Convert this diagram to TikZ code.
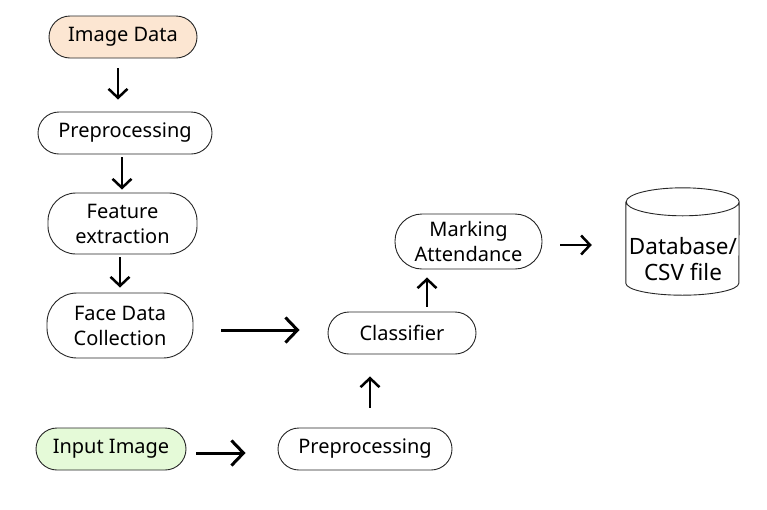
\documentclass[tikz,border=0pt]{standalone}
\usepackage{fontspec}
\setmainfont{Noto Sans}
\usetikzlibrary{arrows.meta}
\definecolor{peach}{HTML}{FCE6D2}
\definecolor{lgreen}{HTML}{E5FAD8}
\tikzset{
  pill/.style={draw=black!85, line width=0.9pt, rounded corners=#1, align=center, inner sep=0pt, font=\fontsize{20}{25}\selectfont},
  pill/.default=21pt,
  cyl/.style={draw=black!85, line width=0.9pt},
  arr/.style={line width=2.5pt, -{Straight Barb[length=9pt,width=19pt,line width=2.5pt]}},
  bigarr/.style={line width=3pt, -{Straight Barb[length=12pt,width=25pt,line width=3pt]}},
}
\begin{document}
\begin{tikzpicture}[x=1pt,y=-1pt]
\useasboundingbox[fill=white] (0,0) rectangle (767,509);
\node[pill, fill=peach, minimum width=148pt, minimum height=42pt] (imgdata) at (123,37) {Image Data};
\node[pill, minimum width=174pt, minimum height=42pt] (pre1) at (125,133) {Preprocessing};
\node[pill=28pt, minimum width=149pt, minimum height=61pt] (feat) at (122.5,223.5) {Feature\\extraction};
\node[pill=30pt, minimum width=146pt, minimum height=65pt] (face) at (120,325.5) {Face Data\\Collection};
\node[pill, minimum width=148pt, minimum height=42pt] (clf) at (402,333) {Classifier};
\node[pill=27pt, minimum width=147pt, minimum height=55pt] (mark) at (468.5,241.5) {Marking\\Attendance};
\node[pill, fill=lgreen, minimum width=150pt, minimum height=42pt] (input) at (111,449) {Input Image};
\node[pill, minimum width=174pt, minimum height=42pt] (pre2) at (365,449) {Preprocessing};
% database cylinder
\node[minimum width=113pt, minimum height=107pt, inner sep=0pt] (db) at (682.5,241.5) {};
\draw[cyl] ([yshift=-14pt]db.north west) -- ([yshift=12pt]db.south west)
  arc[start angle=180, end angle=360, x radius=56.5pt, y radius=12pt]
  -- ([yshift=-14pt]db.north east)
  arc[start angle=0, end angle=180, x radius=56.5pt, y radius=14pt]
  arc[start angle=180, end angle=360, x radius=56.5pt, y radius=14pt];
\node[align=center, inner sep=0pt, font=\fontsize{22.5}{26}\selectfont] (dbtext) at (683,259) {Database/\\CSV file};
% connectors
\draw[arr, shorten <=10pt, shorten >=12pt] ([xshift=-5pt]imgdata.south) -- ([xshift=-7pt]pre1.north);
\draw[arr, shorten <=3pt, shorten >=3pt] ([xshift=-3pt]pre1.south) -- ([xshift=-0.5pt]feat.north);
\draw[arr, shorten <=3pt, shorten >=5pt] ([xshift=-2.5pt]feat.south) -- (face.north);
\draw[bigarr, shorten <=28pt, shorten >=28pt] ([yshift=-4.5pt]face.east) -- ([yshift=3pt]clf.west);
\draw[bigarr, shorten <=10pt, shorten >=32pt] ([yshift=-4pt]input.east) -- ([yshift=-4pt]pre2.west);
\draw[arr, shorten <=20pt, shorten >=22pt] ([xshift=5pt]pre2.north) -- ([xshift=-32pt]clf.south);
\draw[arr, shorten <=5pt, shorten >=8pt] ([xshift=25pt]clf.north) -- ([xshift=-41.5pt]mark.south);
\draw[arr, shorten <=18pt, shorten >=34pt] ([yshift=-3.5pt]mark.east) -- ([yshift=-3.5pt]db.west);
\end{tikzpicture}
\end{document}
